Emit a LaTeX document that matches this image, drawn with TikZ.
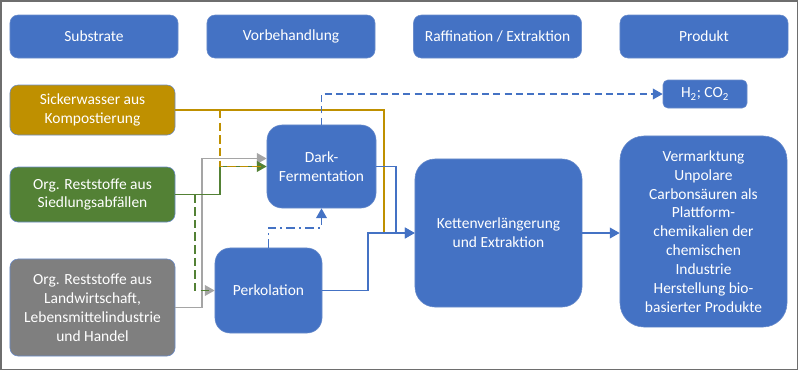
\documentclass[tikz,border=0pt]{standalone}
\usepackage{fontspec}
\setmainfont{Carlito}
\usetikzlibrary{arrows.meta}

\begin{document}
\begin{tikzpicture}[x=0.025cm, y=-0.025cm,
  box/.style={fill=colBlue, draw=colEdge, line width=0.4pt, text=white, align=center,
    font=\fontsize{11}{13.4}\selectfont, inner sep=2pt},
  head/.style={box, rounded corners=0.2cm, minimum width=4.2cm, minimum height=1.075cm},
  input/.style={box, rounded corners=0.2cm, minimum width=4.125cm},
  conn/.style={line width=1.4pt},
  tip/.style={-{Triangle[length=7pt,width=7.5pt]}}]

% Farben
\definecolor{colBlue}{HTML}{4472C4}
\definecolor{colEdge}{HTML}{6A8CCB}
\definecolor{colGold}{HTML}{BF9000}
\definecolor{colGreen}{HTML}{538135}
\definecolor{colGray}{HTML}{7F7F7F}
\definecolor{lineGray}{HTML}{A5A5A5}
\definecolor{frameGray}{HTML}{6E6E6E}

% Rahmen
\useasboundingbox (0,0) rectangle (800,371);
\draw[frameGray, line width=1pt] (0.8,0.8) rectangle (797.5,369.5);

% Kopfzeile
\node[head] (hdSub) at (94,36.5) {Substrate};
\node[head] (hdVor) at (291,36.5) {Vorbehandlung};
\node[head] (hdRaf) at (497.5,36.5) {Raffination / Extraktion};
\node[head] (hdPro) at (704,36.5) {Produkt};

% Substrate
\node[input, fill=colGold, minimum height=1.25cm] (sicker) at (92.5,110)
  {Sickerwasser aus\\Kompostierung};
\node[input, fill=colGreen, minimum height=1.375cm] (siedlung) at (92.5,194.5)
  {Org. Reststoffe aus\\Siedlungsabfällen};
\node[input, fill=colGray, minimum height=2.425cm] (landwirt) at (92.5,307.5)
  {Org. Reststoffe aus\\Landwirtschaft,\\Lebensmittelindustrie\\und Handel};

% Prozessschritte
\node[box, rounded corners=0.375cm, minimum width=2.725cm, minimum height=2.075cm] (dark)
  at (321.5,166.5) {Dark-\\Fermentation};
\node[box, rounded corners=0.375cm, minimum width=2.675cm, minimum height=2.125cm] (perko)
  at (268.5,290.5) {Perkolation};
\node[box, rounded corners=0.5cm, minimum width=4.175cm, minimum height=3.7cm] (kette)
  at (498.5,233) {Kettenverlängerung\\und Extraktion};
\node[box, rounded corners=0.6cm, minimum width=4.175cm, minimum height=4.775cm] (produkt)
  at (703.5,231.5) {Vermarktung\\Unpolare\\Carbonsäuren als\\Plattform-\\chemikalien der\\chemischen\\Industrie\\Herstellung bio-\\basierter Produkte};
\node[box, rounded corners=0.12cm, minimum width=2.1cm, minimum height=0.7cm] (gas)
  at (705,94) {H\textsubscript{2}; CO\textsubscript{2}};

% Verbindungen Substrate
\draw[conn, colGold] (sicker.east) -| ([xshift=-0.775cm]kette.west);
\draw[conn, lineGray, tip] (landwirt.east) -- ++(27,0) |- ([yshift=0.2cm]dark.west);
\draw[conn, lineGray, tip] (landwirt.east) -- ++(27,0) |- (perko.west);
\draw[conn, colGreen, tip] (siedlung.east) -- ++(45,0) |- (dark.west);
\draw[conn, colGreen, dash pattern=on 6pt off 3pt] ([xshift=0.5cm]siedlung.east) |- ([xshift=-0.1cm]perko.west);
\draw[conn, colGold, dash pattern=on 6pt off 3pt] ([xshift=1.125cm]sicker.east) |- ([xshift=-0.15cm]dark.west);

% Verbindungen Prozess
\draw[conn, colBlue, dash pattern=on 5pt off 3pt, tip] (dark.north) |- (gas.west);
\draw[conn, colBlue, dash pattern=on 6pt off 3pt on 1.5pt off 3pt, tip]
  (perko.north) -- ++(0,-20) -| (dark.south);
\draw[conn, colBlue, tip] (dark.east) -- ++(20,0) |- (kette.west);
\draw[conn, colBlue, tip] (perko.east) -- ++(46,0) |- (kette.west);
\draw[conn, colBlue, tip] (kette.east) -- (kette.east -| produkt.west);

\end{tikzpicture}
\end{document}
